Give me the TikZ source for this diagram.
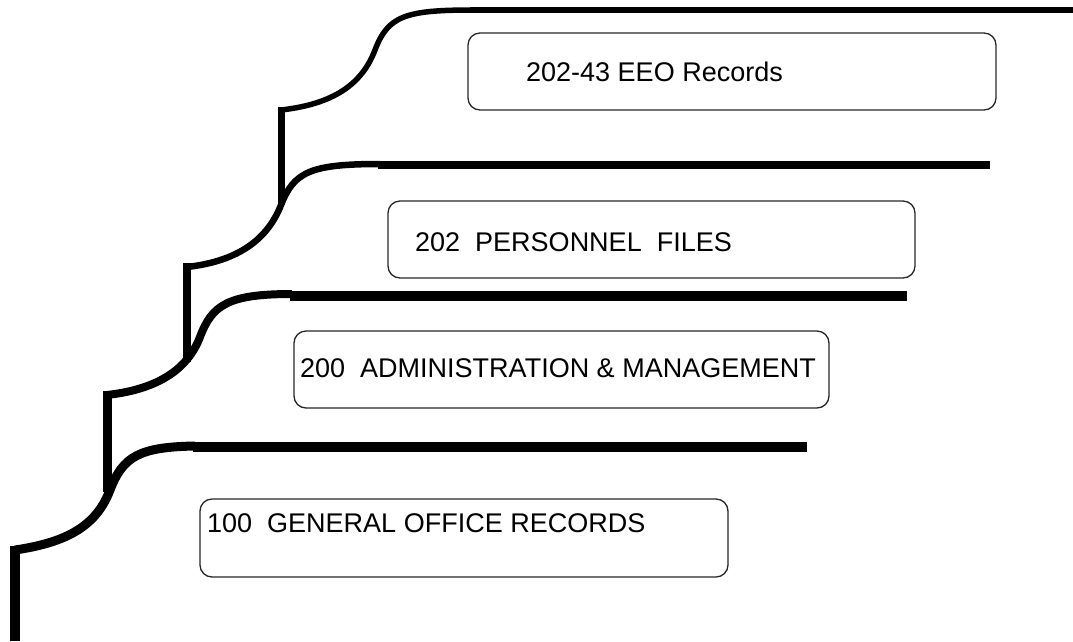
\documentclass[tikz,border=0pt]{standalone}
\usepackage{fontspec}
\setmainfont{Liberation Sans}
\begin{document}
\begin{tikzpicture}[x=1pt,y=-1pt,
  tabbox/.style={draw=black!85,line width=1.3pt,rounded corners=12pt,inner sep=0pt},
  tablabel/.style={anchor=west,inner sep=0pt,font=\fontsize{27}{32}\selectfont},
  ink/.style={line cap=butt,line join=round}]
\useasboundingbox (0,0) rectangle (1073,641);
% tab profiles
\coordinate (b1) at (15,550); \coordinate (m1) at (110,490); \coordinate (e1) at (195,446);
\coordinate (b2) at (107,395); \coordinate (m2) at (200,337); \coordinate (e2) at (292,294);
\coordinate (b3) at (187,267); \coordinate (m3) at (281,205); \coordinate (e3) at (380,164);
\coordinate (b4) at (281,110); \coordinate (m4) at (375,50); \coordinate (e4) at (473,10);
% verticals
\draw[ink,line width=10pt] (15,641) -- (15,546);
\draw[ink,line width=9pt] (107,492) -- (107,391);
\draw[ink,line width=8pt] (187,362) -- (187,263);
\draw[ink,line width=7pt] (281,205) -- (281,107);
% curves
\draw[ink,line width=9pt] (b1) .. controls (70,542) and (97,524) .. (m1) .. controls (123,456) and (140,447) .. (e1);
\draw[ink,line width=8pt] (b2) .. controls (160,389) and (188,368) .. (m2) .. controls (212,305) and (228,294) .. (e2);
\draw[ink,line width=6.5pt] (b3) .. controls (240,261) and (268,238) .. (m3) .. controls (294,172) and (310,164) .. (e3);
\draw[ink,line width=5.5pt] (b4) .. controls (334,104) and (362,84) .. (m4) .. controls (388,16) and (405,10) .. (e4);
% thick lines
\draw[ink,line width=10pt] (193,447) -- (807,447);
\draw[ink,line width=10pt] (290,296) -- (907,296);
\draw[ink,line width=8pt] (378,165) -- (990,165);
\draw[ink,line width=6pt] (470,10) -- (1073,10);
% boxes
\node[tabbox,minimum width=528pt,minimum height=78pt] (box1) at (464,538) {};
\node[tabbox,minimum width=535pt,minimum height=77pt] (box2) at (561.5,369.5) {};
\node[tabbox,minimum width=527pt,minimum height=77pt] (box3) at (651.5,239.5) {};
\node[tabbox,minimum width=528pt,minimum height=77pt] (box4) at (732,71.5) {};
\node[tablabel] (t1) at (207,523) {100\ \ GENERAL OFFICE RECORDS};
\node[tablabel] (t2) at (300,368) {200\ \ ADMINISTRATION \& MANAGEMENT};
\node[tablabel] (t3) at (415,242) {202\ \ PERSONNEL\ \ FILES};
\node[tablabel] (t4) at (526,72) {202-43 EEO Records};
\end{tikzpicture}
\end{document}
